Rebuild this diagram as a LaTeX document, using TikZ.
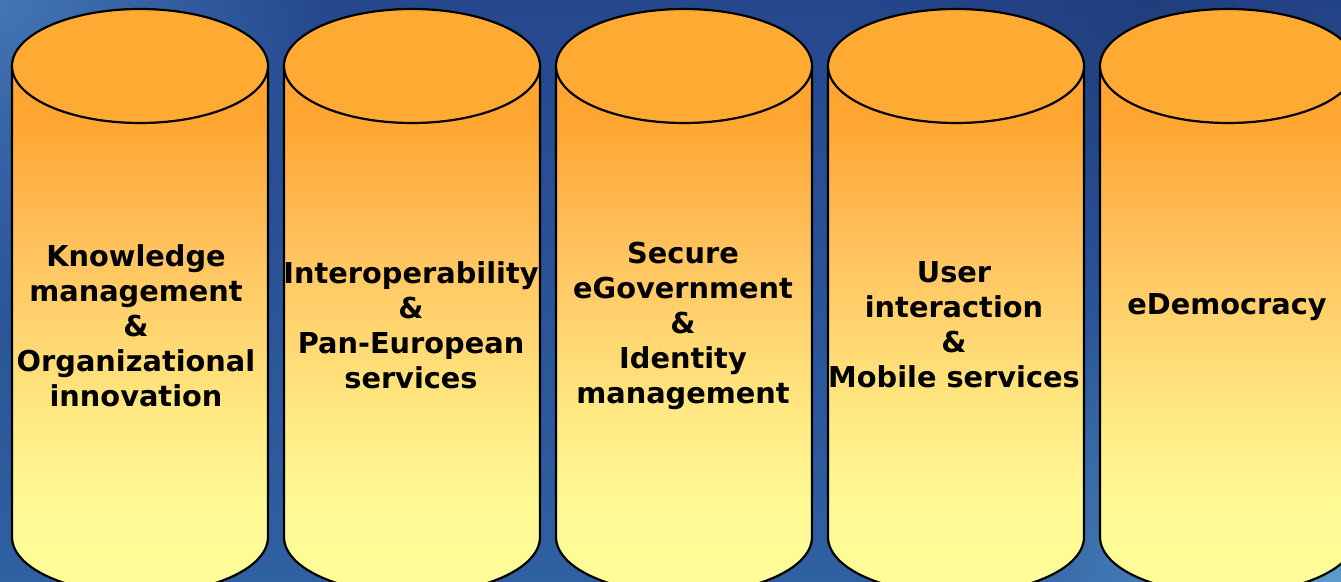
\documentclass[tikz,border=0pt]{standalone}
\usepackage{fontspec}
\setmainfont{DejaVu Sans}
\usetikzlibrary{fadings}
\definecolor{bgtop}{HTML}{25478E}
\definecolor{bgbot}{HTML}{2F60A2}
\definecolor{bglight}{HTML}{4276B5}
\definecolor{bgcorner}{HTML}{5C9DCC}
\definecolor{cyltop}{HTML}{FFAB33}
\definecolor{cylA}{HTML}{FFFF99}
\definecolor{cylB}{HTML}{FFFA95}
\definecolor{cylC}{HTML}{FFEB85}
\definecolor{cylD}{HTML}{FFBF5A}
\definecolor{cylE}{HTML}{FFA630}
\pgfdeclareverticalshading{cylbody}{100bp}{color(0bp)=(cylA); color(33bp)=(cylB); color(41bp)=(cylC); color(59bp)=(cylD); color(70bp)=(cylE); color(100bp)=(cylE)}
\tikzfading[name=softglow, inner color=transparent!0, outer color=transparent!100]
\tikzset{
  pillar/.style={line width=2.2pt, draw=black},
  pillartext/.style={align=center, font=\fontsize{28.8}{35}\selectfont\bfseries, text=black, inner sep=0pt},
}
\newcommand{\pillarat}[2]{%
  \shade[shading=cylbody] (#1-128,515) -- (#1-128,44) arc[start angle=180,end angle=360,x radius=128,y radius=57] -- (#1+128,515) -- cycle;
  \draw[pillar] (#1-128,515) -- (#1-128,44) arc[start angle=180,end angle=360,x radius=128,y radius=57] -- (#1+128,515);
  \filldraw[pillar, fill=cyltop] (#1,515) ellipse[x radius=128, y radius=57];
  \coordinate (#2) at (#1,515);
}
\begin{document}
\begin{tikzpicture}[x=1pt,y=1pt]
\useasboundingbox (0,0) rectangle (1341,581);
\clip (0,0) rectangle (1341,581);
\shade[top color=bgtop, bottom color=bgbot] (0,0) rectangle (1341,581);
\fill[bglight, path fading=softglow] (0,581) circle[radius=330];
\fill[bgcorner, path fading=softglow] (1341,0) circle[radius=360];
\fill[bgtop!80!black, path fading=softglow, fill opacity=0.6] (1150,581) circle[radius=300];
\pillarat{140}{p1}
\pillarat{412}{p2}
\pillarat{684}{p3}
\pillarat{956}{p4}
\pillarat{1228}{p5}
\node[pillartext] (t1) at (136,255) {Knowledge\\management\\\&\\Organizational\\innovation};
\node[pillartext] (t2) at (411,256) {Interoperability\\\&\\Pan-European\\services};
\node[pillartext] (t3) at (683,255) {Secure\\eGovernment\\\&\\Identity\\management};
\node[pillartext] (t4) at (954,256) {User\\interaction\\\&\\Mobile services};
\node[pillartext] (t5) at (1227,274) {eDemocracy};
\end{tikzpicture}
\end{document}
